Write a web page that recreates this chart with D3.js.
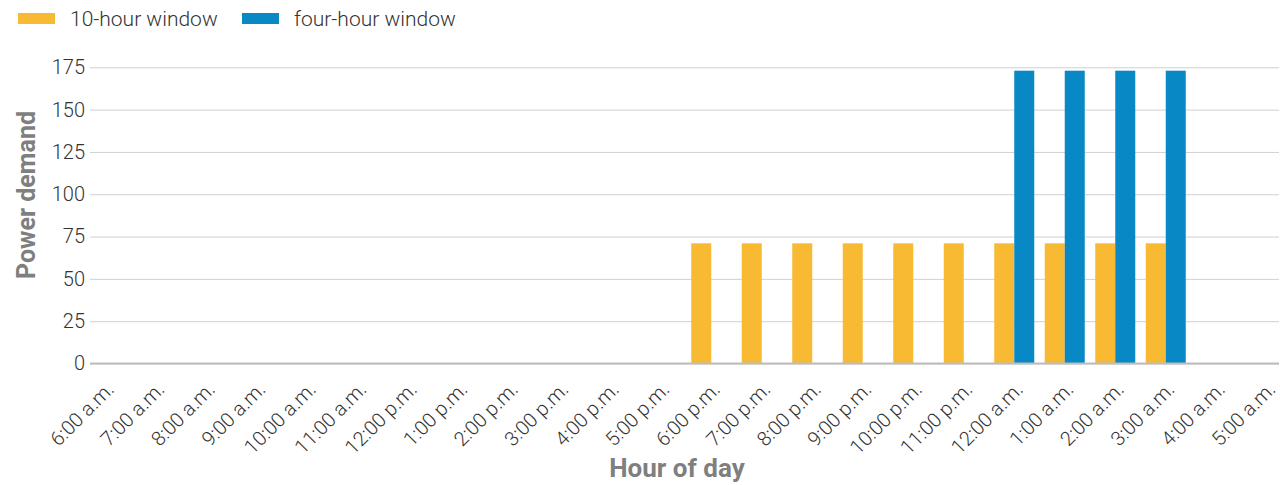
<!DOCTYPE html>
<html>
<head>
<meta charset="utf-8">
<script src="https://cdn.jsdelivr.net/npm/d3@7"></script>
<style>
  html, body { margin: 0; padding: 0; background: #fff; }
  svg { display: block; }
  text { font-family: Roboto, "Noto Sans", sans-serif; }
</style>
</head>
<body>
<svg id="chart" width="1280" height="485"></svg>
<script>
const categories = ["6:00 a.m.","7:00 a.m.","8:00 a.m.","9:00 a.m.","10:00 a.m.","11:00 a.m.","12:00 p.m.","1:00 p.m.","2:00 p.m.","3:00 p.m.","4:00 p.m.","5:00 p.m.","6:00 p.m.","7:00 p.m.","8:00 p.m.","9:00 p.m.","10:00 p.m.","11:00 p.m.","12:00 a.m.","1:00 a.m.","2:00 a.m.","3:00 a.m.","4:00 a.m.","5:00 a.m."];
const seriesNames = ["10-hour window", "four-hour window"];
const tenHour  = [0,0,0,0,0,0,0,0,0,0,0,0,71,71,71,71,71,71,71,71,71,71,0,0];
const fourHour = [0,0,0,0,0,0,0,0,0,0,0,0,0,0,0,0,0,0,173,173,173,173,0,0];
const yTicks = [0,25,50,75,100,125,150,175];
const colors = ["#f8b933", "#0889c6"];
const yTitle = "Power demand";
const xTitle = "Hour of day";

const svg = d3.select("#chart");
const plotLeft = 90, plotRight = 1279, plotTop = 67.3, plotBottom = 363.5;

const x0 = d3.scaleBand().domain(categories).range([80, 1292]);
const x1 = d3.scaleBand().domain(seriesNames).range([-20, 20]);
const y = d3.scaleLinear().domain([0, 175]).range([plotBottom, plotTop]);

// gridlines + y labels
const yAxis = d3.axisLeft(y).tickValues(yTicks).tickSize(-(plotRight - plotLeft)).tickPadding(5);
const gy = svg.append("g").attr("transform", `translate(${plotLeft},0)`).call(yAxis);
gy.select(".domain").remove();
gy.selectAll(".tick line").attr("stroke", "#d0d0d0").attr("stroke-width", 1);
gy.selectAll(".tick text").attr("fill", "#333").attr("font-size", 20).attr("font-weight", 300).attr("x", -5);

// bars
const data = [];
categories.forEach((c, i) => {
  data.push({cat: c, s: seriesNames[0], v: tenHour[i], color: colors[0]});
  data.push({cat: c, s: seriesNames[1], v: fourHour[i], color: colors[1]});
});
svg.append("g").selectAll("rect").data(data.filter(d => d.v > 0)).join("rect")
  .attr("x", d => x0(d.cat) + x0.bandwidth() / 2 + x1(d.s))
  .attr("width", x1.bandwidth())
  .attr("y", d => y(d.v))
  .attr("height", d => y(0) - y(d.v))
  .attr("fill", d => d.color);

// zero line
svg.append("line").attr("x1", plotLeft).attr("x2", plotRight)
  .attr("y1", y(0)).attr("y2", y(0)).attr("stroke", "#bdbdbd").attr("stroke-width", 2);

// x labels
const xAxis = d3.axisBottom(x0).tickSize(0).tickPadding(0);
const gx = svg.append("g").attr("transform", `translate(0,${plotBottom})`).call(xAxis);
gx.select(".domain").remove();
gx.selectAll(".tick text")
  .attr("fill", "#333").attr("font-size", 20).attr("font-weight", 300)
  .attr("text-anchor", "end")
  .attr("dy", 0).attr("y", 0)
  .attr("transform", "translate(10,27) rotate(-45)");

// axis titles
svg.append("text").attr("transform", `translate(35,195) rotate(-90)`)
  .attr("text-anchor", "middle").attr("font-size", 25).attr("font-weight", 700).attr("fill", "#7f7f7f")
  .text(yTitle);
svg.append("text").attr("x", 677).attr("y", 477)
  .attr("text-anchor", "middle").attr("font-size", 26).attr("font-weight", 700).attr("fill", "#7f7f7f")
  .text(xTitle);

// legend
const legendX = [18, 242];
seriesNames.forEach((s, i) => {
  const g = svg.append("g").attr("transform", `translate(${legendX[i]},0)`);
  g.append("rect").attr("x", 0).attr("y", 13).attr("width", 37).attr("height", 11).attr("fill", colors[i]);
  g.append("text").attr("x", 52).attr("y", 26).attr("font-size", 21).attr("font-weight", 300).attr("fill", "#333").text(s);
});
</script>
</body>
</html>
